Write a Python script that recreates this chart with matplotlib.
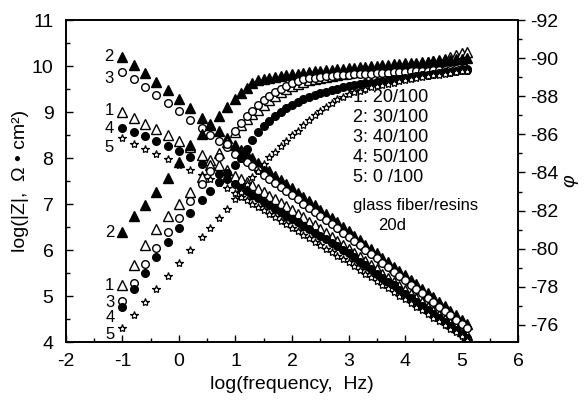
import matplotlib
matplotlib.use('Agg')
import matplotlib.pyplot as plt
from matplotlib.ticker import MultipleLocator

plt.rcParams['font.family'] = ['Liberation Sans', 'DejaVu Sans']
plt.rcParams['axes.unicode_minus'] = False

# log10 of frequency (Hz), shared by all series
freq_log = [-1.0, -0.8, -0.6, -0.4, -0.2, 0.0, 0.2, 0.4, 0.55, 0.7, 0.85, 1.0,
            1.1, 1.2, 1.3, 1.4, 1.5, 1.6, 1.7, 1.8, 1.9, 2.0,
            2.1, 2.2, 2.3, 2.4, 2.5, 2.6, 2.7, 2.8, 2.9, 3.0,
            3.1, 3.2, 3.3, 3.4, 3.5, 3.6, 3.7, 3.8, 3.9, 4.0,
            4.1, 4.2, 4.3, 4.4, 4.5, 4.6, 4.7, 4.8, 4.9, 5.0, 5.1]

# log|Z| per sample (1: 20/100, 2: 30/100, 3: 40/100, 4: 50/100, 5: 0/100)
logz_1 = [9.00, 8.88, 8.75, 8.64, 8.50, 8.37, 8.24, 8.07, 7.95, 7.84, 7.73, 7.62,
          7.55, 7.48, 7.41, 7.33, 7.26, 7.18, 7.10, 7.02, 6.95, 6.87,
          6.79, 6.71, 6.62, 6.54, 6.46, 6.37, 6.29, 6.20, 6.12, 6.03,
          5.94, 5.85, 5.76, 5.67, 5.58, 5.49, 5.40, 5.31, 5.22, 5.13,
          5.04, 4.95, 4.86, 4.77, 4.68, 4.59, 4.50, 4.41, 4.32, 4.23, 4.15]
logz_2 = [10.20, 10.02, 9.85, 9.65, 9.47, 9.28, 9.08, 8.88, 8.73, 8.58, 8.43, 8.28,
          8.18, 8.09, 8.00, 7.90, 7.81, 7.72, 7.62, 7.53, 7.44, 7.34,
          7.25, 7.16, 7.06, 6.97, 6.88, 6.78, 6.69, 6.60, 6.50, 6.41,
          6.31, 6.22, 6.12, 6.03, 5.93, 5.83, 5.74, 5.64, 5.55, 5.45,
          5.35, 5.26, 5.16, 5.07, 4.97, 4.87, 4.78, 4.68, 4.59, 4.49, 4.39]
logz_3 = [9.88, 9.71, 9.54, 9.37, 9.20, 9.02, 8.83, 8.65, 8.51, 8.37, 8.23, 8.09,
          8.00, 7.91, 7.82, 7.73, 7.64, 7.55, 7.46, 7.37, 7.28, 7.19,
          7.10, 7.01, 6.92, 6.83, 6.74, 6.65, 6.56, 6.47, 6.38, 6.29,
          6.20, 6.10, 6.01, 5.91, 5.82, 5.72, 5.63, 5.53, 5.44, 5.34,
          5.25, 5.15, 5.06, 4.96, 4.87, 4.77, 4.68, 4.58, 4.49, 4.39, 4.30]
logz_4 = [8.65, 8.57, 8.47, 8.37, 8.26, 8.15, 8.02, 7.88, 7.77, 7.66, 7.54, 7.43,
          7.35, 7.28, 7.20, 7.13, 7.05, 6.98, 6.90, 6.83, 6.75, 6.68,
          6.60, 6.53, 6.45, 6.38, 6.30, 6.23, 6.15, 6.08, 6.00, 5.93,
          5.84, 5.75, 5.67, 5.58, 5.49, 5.40, 5.31, 5.23, 5.14, 5.05,
          4.96, 4.87, 4.79, 4.70, 4.61, 4.52, 4.43, 4.35, 4.26, 4.17, 4.08]
logz_5 = [8.43, 8.30, 8.20, 8.08, 7.97, 7.85, 7.74, 7.63, 7.54, 7.45, 7.35, 7.24,
          7.16, 7.09, 7.01, 6.94, 6.86, 6.79, 6.71, 6.64, 6.56, 6.49,
          6.41, 6.33, 6.26, 6.18, 6.11, 6.03, 5.96, 5.88, 5.81, 5.73,
          5.65, 5.57, 5.49, 5.41, 5.33, 5.25, 5.17, 5.09, 5.01, 4.93,
          4.85, 4.77, 4.69, 4.61, 4.53, 4.45, 4.37, 4.29, 4.21, 4.13, 4.05]

# phase angle (deg)
phase_1 = [-78.10, -79.15, -80.20, -81.05, -81.70, -82.35, -83.00, -83.75, -84.40, -85.00, -85.60, -86.10,
           -86.50, -86.80, -87.05, -87.30, -87.55, -87.80, -88.00, -88.20, -88.40, -88.55,
           -88.65, -88.75, -88.85, -88.92, -88.98, -89.03, -89.08, -89.13, -89.18, -89.22,
           -89.26, -89.30, -89.34, -89.38, -89.42, -89.46, -89.50, -89.54, -89.58, -89.62,
           -89.66, -89.70, -89.74, -89.78, -89.83, -89.88, -89.95, -90.05, -90.15, -90.25, -90.30]
phase_2 = [-80.90, -81.70, -82.30, -83.00, -83.70, -84.55, -85.45, -86.00, -86.50, -86.95, -87.45, -87.85,
           -88.15, -88.45, -88.70, -88.85, -88.92, -88.97, -89.02, -89.07, -89.11, -89.15,
           -89.19, -89.23, -89.27, -89.30, -89.33, -89.36, -89.39, -89.42, -89.45, -89.48,
           -89.50, -89.53, -89.55, -89.58, -89.60, -89.62, -89.65, -89.67, -89.70, -89.72,
           -89.74, -89.76, -89.79, -89.81, -89.83, -89.86, -89.88, -89.91, -89.94, -89.97, -90.00]
phase_3 = [-77.25, -78.20, -79.20, -80.05, -80.85, -81.60, -82.50, -83.40, -84.10, -84.80, -85.50, -86.20,
           -86.60, -86.95, -87.25, -87.55, -87.80, -88.00, -88.20, -88.40, -88.55, -88.70,
           -88.80, -88.88, -88.94, -88.98, -89.02, -89.05, -89.07, -89.09, -89.11, -89.13,
           -89.15, -89.16, -89.18, -89.19, -89.21, -89.22, -89.24, -89.25, -89.27, -89.28,
           -89.30, -89.31, -89.33, -89.34, -89.36, -89.37, -89.39, -89.40, -89.42, -89.43, -89.45]
phase_4 = [-76.95, -77.90, -78.75, -79.55, -80.35, -81.10, -81.85, -82.55, -83.05, -83.50, -83.95, -84.40,
           -84.75, -85.25, -85.70, -86.15, -86.45, -86.70, -86.95, -87.15, -87.38, -87.55,
           -87.72, -87.85, -87.97, -88.07, -88.15, -88.23, -88.32, -88.40, -88.46, -88.52,
           -88.57, -88.62, -88.67, -88.72, -88.77, -88.81, -88.85, -88.89, -88.93, -88.97,
           -89.01, -89.05, -89.09, -89.13, -89.17, -89.21, -89.25, -89.29, -89.33, -89.37, -89.40]
phase_5 = [-75.85, -76.50, -77.20, -77.90, -78.55, -79.25, -79.95, -80.60, -81.10, -81.60, -82.10, -82.60,
           -83.00, -83.40, -83.75, -84.10, -84.45, -84.80, -85.10, -85.40, -85.65, -85.95,
           -86.20, -86.50, -86.75, -87.00, -87.25, -87.45, -87.65, -87.85, -87.98, -88.10,
           -88.20, -88.30, -88.38, -88.46, -88.54, -88.60, -88.66, -88.72, -88.78, -88.84,
           -88.89, -88.94, -88.99, -89.04, -89.09, -89.13, -89.18, -89.22, -89.27, -89.31, -89.35]

legend_lines = ['1: 20/100', '2: 30/100', '3: 40/100', '4: 50/100', '5: 0 /100']

styles = [
    dict(marker='^', ms=6.5, mfc='white', mec='black', mew=1.0),
    dict(marker='^', ms=6.5, mfc='black', mec='black', mew=1.0),
    dict(marker='o', ms=5.5, mfc='white', mec='black', mew=1.0),
    dict(marker='o', ms=5.5, mfc='black', mec='black', mew=1.0),
    dict(marker='*', ms=6.0, mfc='white', mec='black', mew=0.9),
]
logz_all = [logz_1, logz_2, logz_3, logz_4, logz_5]
phase_all = [phase_1, phase_2, phase_3, phase_4, phase_5]

fig = plt.figure(figsize=(5.84, 4.01), dpi=100)
ax = fig.add_axes([0.113, 0.147, 0.774, 0.803])
ax2 = ax.twinx()

for z, st in zip(logz_all, styles):
    ax.plot(freq_log, z, linestyle='none', **st)
for ph, st in zip(phase_all, styles):
    ax2.plot(freq_log, ph, linestyle='none', **st)

ax.set_xlim(-2, 6)
ax.set_ylim(4, 11)
ax2.set_ylim(-75.1, -92)

ax.xaxis.set_major_locator(MultipleLocator(1))
ax.xaxis.set_minor_locator(MultipleLocator(0.5))
ax.yaxis.set_major_locator(MultipleLocator(1))
ax.yaxis.set_minor_locator(MultipleLocator(0.5))
ax2.yaxis.set_major_locator(MultipleLocator(2))
ax2.yaxis.set_minor_locator(MultipleLocator(1))

fs = 14
ax.tick_params('both', which='major', direction='in', length=5, width=1, labelsize=fs)
ax.tick_params('both', which='minor', direction='in', length=3, width=1)
ax.tick_params('x', which='both', top=False, pad=8)
ax.tick_params('y', which='major', pad=9)
ax2.tick_params('y', which='major', direction='out', length=5, width=1, labelsize=fs)
ax2.tick_params('y', which='minor', direction='out', length=3, width=1)

for sp in ax.spines.values():
    sp.set_linewidth(1.2)
for sp in ax2.spines.values():
    sp.set_linewidth(1.2)

ax.set_xlabel('log(frequency,  Hz)', fontsize=fs, labelpad=4)
ax.set_ylabel('log(|Z|,  \u03a9 \u2022 cm\u00b2)', fontsize=fs, labelpad=2)
ax2.set_ylabel('\u03c6', fontsize=fs, rotation=90, labelpad=2, style='italic')

# curve numbers next to the low-frequency ends
lab_fs = 12
for txt, yy in zip(['2', '3', '1', '4', '5'], [0.887, 0.817, 0.718, 0.662, 0.603]):
    ax.text(0.095, yy, txt, transform=ax.transAxes, fontsize=lab_fs, ha='center', va='center')
for txt, yy in zip(['2', '1', '3', '4', '5'], [0.339, 0.177, 0.124, 0.075, 0.022]):
    ax.text(0.097, yy, txt, transform=ax.transAxes, fontsize=lab_fs, ha='center', va='center')

for i, line in enumerate(legend_lines):
    ax.text(0.635, 0.76 - i * 0.062, line, transform=ax.transAxes, fontsize=13,
            ha='left', va='center')
ax.text(0.635, 0.424, 'glass fiber/resins', transform=ax.transAxes, fontsize=12,
        ha='left', va='center')
ax.text(0.69, 0.362, '20d', transform=ax.transAxes, fontsize=12,
        ha='left', va='center')

fig.savefig('out.png', dpi=100)
